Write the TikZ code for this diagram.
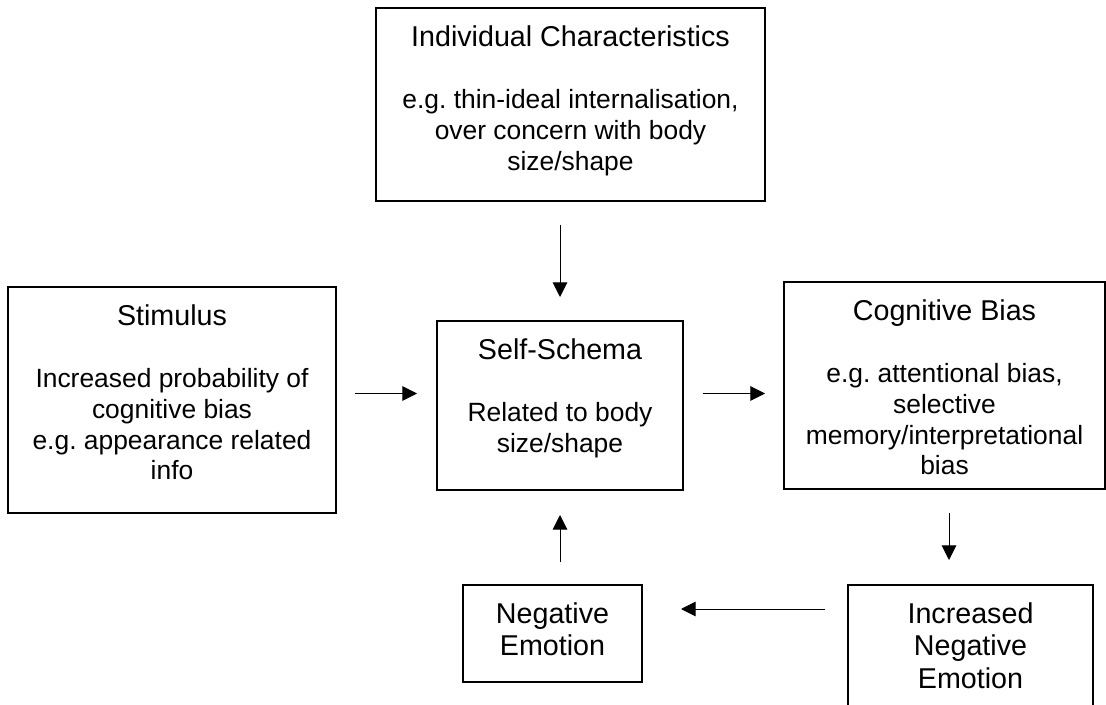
\documentclass[tikz,border=0pt]{standalone}
\usepackage{fontspec}
\setmainfont{Liberation Sans}
\usetikzlibrary{arrows.meta}
\frenchspacing
\newcommand\titlesize{\fontsize{21.5}{24.5}\selectfont}
\newcommand\bodysize{\fontsize{19.8}{23}\selectfont}
\newcommand\boxtext[4]{\parbox[c][#2][t]{#1}{\centering\vspace*{13pt}{\titlesize #3\par}\vspace{24pt}{\bodysize #4\par}}}
\newcommand\boxtitle[3]{\parbox[c][#2][t]{#1}{\centering\vspace*{13pt}{\titlesize #3\par}}}
\begin{document}
\begin{tikzpicture}[x=0.75pt,y=-0.75pt,
  box/.style={draw=black, line width=1.15pt, inner sep=0pt, outer sep=0pt},
  arr/.style={-{Triangle[length=11pt,width=11pt]}, line width=0.75pt}]
\useasboundingbox (0,0) rectangle (1106,705);
\clip (0,0) rectangle (1106,705);
\fill[white] (0,0) rectangle (1106,705);

\node[box] (ind) at (570.5,104.5) {\boxtext{291.75pt}{144.75pt}{Individual Characteristics}{e.g. thin-ideal internalisation,\\ over concern with body\\ size/shape}};
\node[box] (stim) at (172,400) {\boxtext{246pt}{169.5pt}{Stimulus}{Increased probability of\\ cognitive bias\\ e.g. appearance related\\ info}};
\node[box] (self) at (560,405.5) {\boxtext{184.5pt}{126.75pt}{Self-Schema}{Related to body\\ size/shape}};
\node[box] (cog) at (944.5,385.5) {\boxtext{240.75pt}{155.25pt}{Cognitive Bias}{e.g. attentional bias,\\ selective\\ memory/interpretational\\ bias}};
\node[box] (neg) at (552.5,633.5) {\boxtitle{134.25pt}{72.75pt}{Negative\\ Emotion}};
\node[box] (inc) at (970.5,655) {\boxtitle{183.75pt}{105pt}{Increased\\ Negative\\ Emotion}};

\coordinate (h1) at (0,393.5);
\coordinate (h2) at (0,609);
\coordinate (v1) at (949,0);

\draw[arr, shorten <=18pt, shorten >=18pt] (ind.south -| self.north) -- (self.north);
\draw[arr, shorten <=14.25pt, shorten >=15pt] (stim.east |- h1) -- (self.west |- h1);
\draw[arr, shorten <=15pt, shorten >=14.25pt] (self.east |- h1) -- (cog.west |- h1);
\draw[arr, shorten <=18pt, shorten >=18.75pt] (cog.south -| v1) -- (inc.north -| v1);
\draw[arr, shorten <=17.25pt, shorten >=29.25pt] (inc.west |- h2) -- (neg.east |- h2);
\draw[arr, shorten <=17.25pt, shorten >=18.75pt] (neg.north -| self.south) -- (self.south);
\end{tikzpicture}
\end{document}
